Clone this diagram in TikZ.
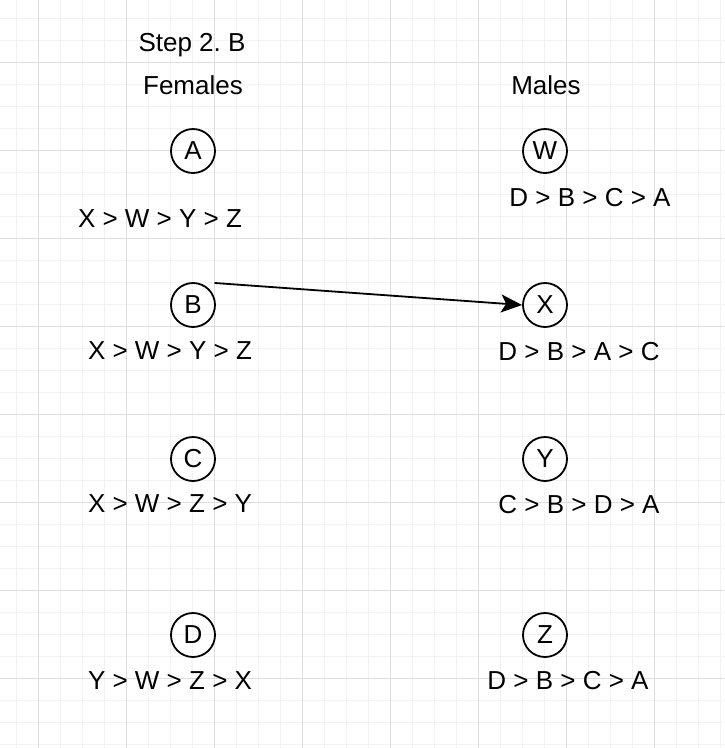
\documentclass[tikz,border=0pt]{standalone}
\usepackage{fontspec}
\setmainfont{Liberation Sans}
\usetikzlibrary{arrows.meta, calc}

\begin{document}
\frenchspacing
\begin{tikzpicture}[x=1pt, y=-1pt, line cap=round, line join=round,
    person/.style={draw, circle, line width=1.8pt, minimum size=44pt, inner sep=0pt, font=\fontsize{26}{30}\selectfont},
    pref/.style={anchor=base, inner sep=0pt, font=\fontsize{26}{30}\selectfont},
    propose/.style={-{Stealth[length=21pt, width=18pt, inset=5pt]}, line width=1.8pt}]

    % page and grid
    \fill[white] (0,0) rectangle (724,748);
    \useasboundingbox (0,0) rectangle (724,748);
    \foreach \g in {16,38,...,720} \draw[black!5, line width=1pt] (\g,0) -- (\g,748);
    \foreach \g in {18,40,...,744} \draw[black!5, line width=1pt] (0,\g) -- (724,\g);
    \foreach \g in {38,126,...,654} \draw[black!13, line width=1pt] (\g,0) -- (\g,748);
    \foreach \g in {62,150,...,678} \draw[black!13, line width=1pt] (0,\g) -- (724,\g);

    % headings
    \node[pref] (step) at (192,51) {Step 2. B};
    \node[pref] (females) at (193,94) {Females};
    \node[pref] (males) at (546,94) {Males};

    %--- females and their lists
    \node[person] (A) at (193,151) {A};
    \node[person] (B) at (193,305) {B};
    \node[person] (C) at (193,459) {C};
    \node[person] (D) at (193,635) {D};
    \node[pref] (prefA) at (160,227) {X > W > Y > Z};
    \node[pref] (prefB) at (170,359) {X > W > Y > Z};
    \node[pref] (prefC) at (170,512) {X > W > Z > Y};
    \node[pref] (prefD) at (170,689) {Y > W > Z > X};

    %--- males and their lists
    \node[person] (W) at (545,151) {W};
    \node[person] (X) at (545,305) {X};
    \node[person] (Y) at (545,459) {Y};
    \node[person] (Z) at (545,635) {Z};
    \node[pref] (prefW) at (590,206) {D > B > C > A};
    \node[pref] (prefX) at (579,360) {D > B > A > C};
    \node[pref] (prefY) at (579,513) {C > B > D > A};
    \node[pref] (prefZ) at (568,689) {D > B > C > A};

    % B proposes to X
    \coordinate (Bcorner) at ($(B)+(22,-22)$);
    \draw[propose] (Bcorner) -- (X.west);
\end{tikzpicture}
\end{document}
